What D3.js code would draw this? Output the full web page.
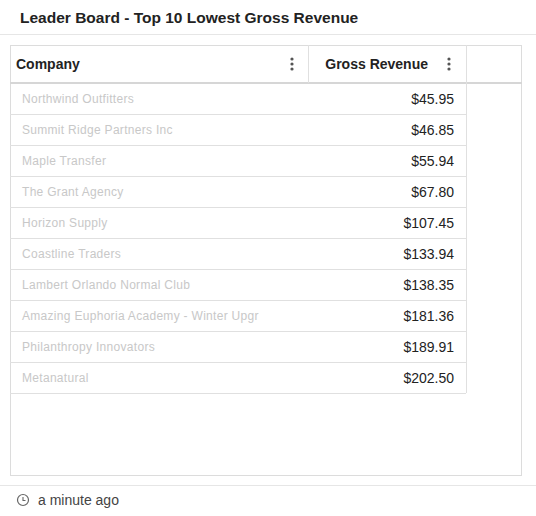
<!DOCTYPE html>
<html><head><meta charset="utf-8">
<script src="https://cdn.jsdelivr.net/npm/d3@7"></script>
<style>body{margin:0;background:#fff;font-family:"Liberation Sans",Arial,sans-serif}</style>
</head><body><svg id="c" width="536" height="516"></svg>
<script>
const companies = ["Northwind Outfitters", "Summit Ridge Partners Inc", "Maple Transfer", "The Grant Agency", "Horizon Supply", "Coastline Traders", "Lambert Orlando Normal Club", "Amazing Euphoria Academy - Winter Upgr", "Philanthropy Innovators", "Metanatural"];
const revenue = [45.95, 46.85, 55.94, 67.80, 107.45, 133.94, 138.35, 181.36, 189.91, 202.50];
const columns = ["Company", "Gross Revenue"];

const svg = d3.select("#c");
svg.append("text").attr("x", 20).attr("y", 23).attr("font-size", 15.5).attr("font-weight", 700)
  .attr("fill", "#222").text("Leader Board - Top 10 Lowest Gross Revenue");
svg.append("line").attr("x1", 0).attr("x2", 536).attr("y1", 34.5).attr("y2", 34.5).attr("stroke", "#e6e6e6");

// table frame
svg.append("rect").attr("x", 10.5).attr("y", 45.5).attr("width", 511).attr("height", 430)
  .attr("fill", "none").attr("stroke", "#dcdcdc");

const x0 = 10, x1 = 308, x2 = 466;
const y = d3.scaleBand().domain(d3.range(companies.length)).range([83, 393]);

svg.append("line").attr("x1", x0).attr("x2", 522).attr("y1", 83).attr("y2", 83).attr("stroke", "#d6d6d6").attr("stroke-width", 2);
svg.append("line").attr("x1", x1 + .5).attr("x2", x1 + .5).attr("y1", 45).attr("y2", 83).attr("stroke", "#e0e0e0");
svg.append("line").attr("x1", x2 + .5).attr("x2", x2 + .5).attr("y1", 45).attr("y2", 393).attr("stroke", "#e0e0e0");

const hx = [[x0 + 6, "start"], [x2 - 38, "end"]];
columns.forEach((c, i) => {
  svg.append("text").attr("x", hx[i][0])
    .attr("y", 69).attr("font-size", 14).attr("font-weight", 700).attr("fill", "#222")
    .attr("text-anchor", hx[i][1]).text(c);
  const dx = i === 0 ? x1 - 16 : x2 - 17;
  [-5, 0, 5].forEach(d => svg.append("circle").attr("cx", dx).attr("cy", 64 + d).attr("r", 1.6).attr("fill", "#555"));
});

const rows = svg.selectAll("g.row").data(companies).join("g").attr("class", "row")
  .attr("transform", (d, i) => `translate(0,${y(i)})`);
rows.append("line").attr("x1", x0).attr("x2", x2).attr("y1", y.bandwidth() + .5).attr("y2", y.bandwidth() + .5)
  .attr("stroke", "#e0e0e0");
rows.append("text").attr("x", x0 + 12).attr("y", 20).attr("font-size", 12).attr("fill", "#c8c8c8")
  .attr("letter-spacing", 0.3).text(d => d);
rows.append("text").attr("x", x2 - 12).attr("y", 21).attr("font-size", 14).attr("fill", "#222")
  .attr("text-anchor", "end").text((d, i) => "$" + d3.format(",.2f")(revenue[i]));

svg.append("line").attr("x1", 0).attr("x2", 536).attr("y1", 485.5).attr("y2", 485.5).attr("stroke", "#e6e6e6");
svg.append("circle").attr("cx", 23).attr("cy", 500).attr("r", 5.5).attr("fill", "none").attr("stroke", "#666").attr("stroke-width", 1.2);
svg.append("path").attr("d", "M23,497 V500.5 H25.5").attr("fill", "none").attr("stroke", "#666").attr("stroke-width", 1.1);
svg.append("text").attr("x", 38).attr("y", 505).attr("font-size", 14).attr("fill", "#444").text("a minute ago");
</script></body></html>
